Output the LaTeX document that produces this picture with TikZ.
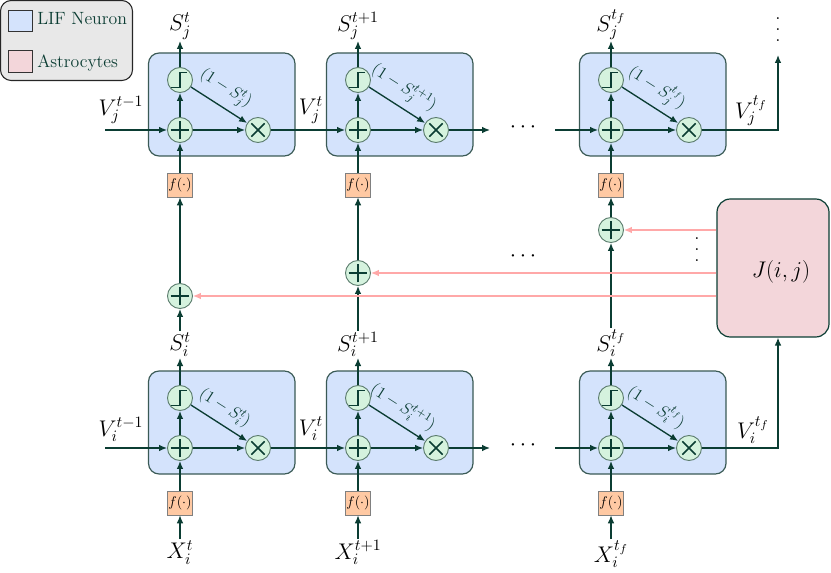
\RequirePackage{fix-cm}
\documentclass[tikz,border=0pt]{standalone}
\usetikzlibrary{arrows.meta,calc}
\definecolor{ln}{HTML}{0B3D33}
\definecolor{boxf}{HTML}{D4E3FC}
\definecolor{boxd}{HTML}{3A5A55}
\definecolor{circf}{HTML}{D5F2DE}
\definecolor{circd}{HTML}{5C7D6E}
\definecolor{ff}{HTML}{FFC9A3}
\definecolor{fd}{HTML}{808080}
\definecolor{jf}{HTML}{F3D6DA}
\definecolor{pinkc}{HTML}{FFA8A8}
\definecolor{legbg}{HTML}{E8E8E8}
\newcommand{\bigvdots}{\vbox{\baselineskip=8.2pt \lineskiplimit=0pt \hbox{.}\hbox{.}\hbox{.}}}
\begin{document}
\begin{tikzpicture}[x=0.75pt,y=-0.75pt,
  box/.style={draw=boxd, fill=boxf, rounded corners=8pt, line width=0.9pt, minimum width=109.9pt, minimum height=77.25pt, inner sep=0pt},
  circ/.style={circle, draw=circd, fill=circf, line width=0.7pt, minimum size=18.75pt, inner sep=0pt},
  plusn/.style={circ, path picture={\draw[ln, line width=1.1pt] ($(path picture bounding box.center)+(-7pt,0)$) -- ++(14pt,0) ($(path picture bounding box.center)+(0,-7pt)$) -- ++(0,14pt);}},
  timesn/.style={circ, path picture={\draw[ln, line width=1.1pt] ($(path picture bounding box.center)+(-5pt,-5pt)$) -- ++(10pt,10pt) ($(path picture bounding box.center)+(-5pt,5pt)$) -- ++(10pt,-10pt);}},
  stepn/.style={circ, path picture={\draw[ln, line width=1.1pt] ($(path picture bounding box.center)+(-6.5pt,-5.5pt)$) -- ++(6.5pt,0) -- ++(0,11pt) -- ++(5.5pt,0);}},
  fbox/.style={draw=fd, fill=ff, minimum width=18.75pt, minimum height=18pt, inner sep=0pt, font=\fontsize{10.5}{12}\selectfont},
  lab/.style={font=\fontsize{17}{19}\selectfont, inner sep=1pt},
  dlab/.style={font=\fontsize{12.5}{14}\selectfont, inner sep=5pt},
  arr/.style={ln, line width=1pt, -{Latex[length=6pt,width=5pt]}},
  parr/.style={pinkc, line width=0.9pt, -{Latex[length=6pt,width=5pt]}}
]
\useasboundingbox (0,0) rectangle (831,573);

% legend
\node[draw=black!85, fill=legbg, rounded corners=8pt, line width=0.8pt, minimum width=99pt, minimum height=60pt, inner sep=0pt] (leg) at (66.5,40.5) {};
\node[draw=black!80, fill=boxf, line width=0.7pt, minimum width=18pt, minimum height=15.75pt, inner sep=0pt] (legb) at (20,20.5) {};
\node[draw=black!80, fill=jf, line width=0.7pt, minimum width=18pt, minimum height=16.5pt, inner sep=0pt] (legp) at (20,61) {};
\node[anchor=base west, inner sep=0pt, text=ln, font=\fontsize{13.3}{15}\selectfont] (legt1) at (37,25) {LIF Neuron};
\node[anchor=base west, inner sep=0pt, text=ln, font=\fontsize{13.3}{15}\selectfont] (legt2) at (37,68) {Astrocytes};

% mid plus circles
\node[plusn] (pc1) at (180,296) {};
\node[plusn] (pc2) at (358,273) {};
\node[plusn] (pc3) at (611,230) {};

\foreach \i/\c/\ts in {1/180/t,2/358/t+1,3/611/t_f} {
  % top row (j)
  \node[box] (bj\i) at (\c+41.75,104.5) {};
  \node[stepn] (sj\i) at (\c,80) {};
  \node[plusn] (pj\i) at (\c,130) {};
  \node[timesn] (mj\i) at (\c+78,130) {};
  \node[fbox] (fj\i) at (\c,185) {$f(\cdot)$};
  \node[lab,anchor=south] (Sj\i) at (\c,41) {$S_j^{\ts}$};
  \draw[arr] (pj\i) -- (sj\i);
  \draw[arr] (pj\i) -- (mj\i);
  \draw[arr] (sj\i) -- node[pos=0.45,sloped,above,dlab] {$(1-S_j^{\ts})$} (mj\i);
  \draw[arr] (sj\i) -- (Sj\i);
  \draw[arr] (fj\i) -- (pj\i);
  % bottom row (i)
  \node[box] (bi\i) at (\c+41.75,422.5) {};
  \node[stepn] (si\i) at (\c,398) {};
  \node[plusn] (pi\i) at (\c,448) {};
  \node[timesn] (mi\i) at (\c+78,448) {};
  \node[fbox] (fi\i) at (\c,503) {$f(\cdot)$};
  \node[lab,anchor=south] (Si\i) at (\c,358) {$S_i^{\ts}$};
  \node[lab,anchor=north] (Xi\i) at (\c,539) {$X_i^{\ts}$};
  \draw[arr] (pi\i) -- (si\i);
  \draw[arr] (pi\i) -- (mi\i);
  \draw[arr] (si\i) -- node[pos=0.45,sloped,above,dlab] {$(1-S_i^{\ts})$} (mi\i);
  \draw[arr] (si\i) -- (Si\i);
  \draw[arr] (fi\i) -- (pi\i);
  \draw[arr] (Xi\i) -- (fi\i);
  % middle
  \draw[arr] (Si\i) -- (pc\i);
  \draw[arr] (pc\i) -- (fj\i);
}

% top row horizontal flow
\coordinate (vinj) at (105,130);
\coordinate (voj2) at (490,130);
\coordinate (vij3) at (555,130);
\coordinate (topend) at (778,55);
\draw[arr] (vinj) -- (pj1);
\draw[arr] (mj1) -- (pj2);
\draw[arr] (mj2) -- (voj2);
\draw[arr] (vij3) -- (pj3);
\draw[arr] (mj3) -| (topend);
\node[lab] (Vj0) at (121,110) {$V_j^{t-1}$};
\node[lab] (Vj1) at (311,110) {$V_j^{t}$};
\node[lab] (Vj3) at (751,111) {$V_j^{t_f}$};
\node[lab] (dj) at (523,127) {$\cdots$};
\node[lab, inner sep=0pt] (vdj) at (778,30) {\bigvdots};

% bottom row horizontal flow
\coordinate (vini) at (105,448);
\coordinate (voi2) at (490,448);
\coordinate (vii3) at (555,448);
\coordinate (vout) at (778,0);
\draw[arr] (vini) -- (pi1);
\draw[arr] (mi1) -- (pi2);
\draw[arr] (mi2) -- (voi2);
\draw[arr] (vii3) -- (pi3);
\node[lab] (Vi0) at (121,429) {$V_i^{t-1}$};
\node[lab] (Vi1) at (311,429) {$V_i^{t}$};
\node[lab] (Vi3) at (753,430) {$V_i^{t_f}$};
\node[lab] (di) at (523,445) {$\cdots$};

% astrocyte block
\node[draw=ln, fill=jf, rounded corners=10pt, line width=0.9pt, minimum width=84pt, minimum height=103.5pt, inner sep=0pt] (J) at (773,268) {};
\node[inner sep=0pt, font=\fontsize{17}{19}\selectfont] (Jl) at (781,272) {$J(i,j)$};
\draw[arr] (mi3) -| (J.south -| vout);
\draw[parr] (J.west |- pc3) -- (pc3);
\draw[parr] (J.west |- pc2) -- (pc2);
\draw[parr] (J.west |- pc1) -- (pc1);
\node[lab] (dm) at (523,256) {$\cdots$};
\node[lab, inner sep=0pt] (vdm) at (697,250) {\bigvdots};
\end{tikzpicture}
\end{document}
